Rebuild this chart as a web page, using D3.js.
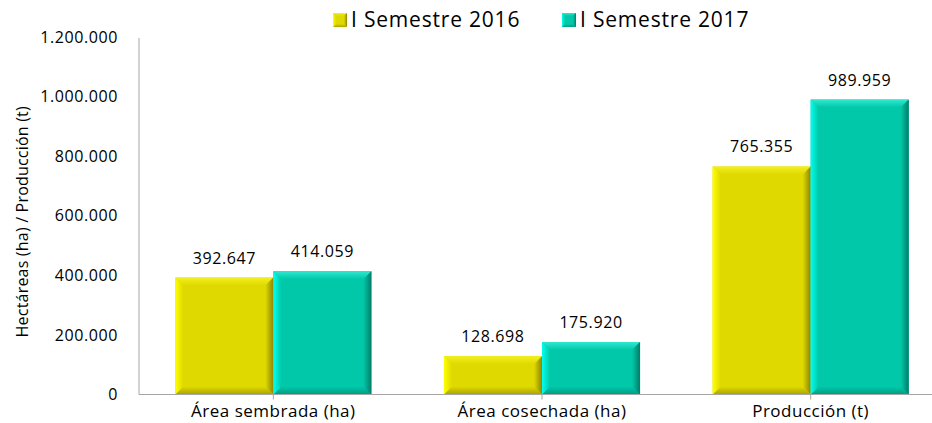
<!DOCTYPE html>
<html lang="es">
<head>
  <meta charset="utf-8" />
  <title>Área y producción</title>
  <script src="https://d3js.org/d3.v7.min.js"></script>
  <style>
    body { margin: 0; background: #fff; }
    text { font-family: "Open Sans", "Liberation Sans", sans-serif; fill: #000; }
  </style>
</head>
<body>
<div id="chart"></div>
<script>
// data
var categories = ["Área sembrada (ha)", "Área cosechada (ha)", "Producción (t)"];
var seriesNames = ["I Semestre 2016", "I Semestre 2017"];
var sem2016 = [392647, 128698, 765355];
var sem2017 = [414059, 175920, 989959];
var yTicks = [0, 200000, 400000, 600000, 800000, 1000000, 1200000];

var width = 932, height = 423;
var plotLeft = 139, plotRight = 945, plotTop = 37, plotBottom = 394.5;

var svg = d3.select("#chart").append("svg")
    .attr("width", width)
    .attr("height", height);

var fmt = function(v) { return d3.format(",")(v).replace(/,/g, "."); };

// bevel colours for each series
var looks = [
  { main: "#dfd900", light: "#ffff00", top: "#f4f020", dark: "#8c8600", bot: "#a9a300" },
  { main: "#00c8a8", light: "#00fff0", top: "#30e8d0", dark: "#007c68", bot: "#009c84" }
];

var defs = svg.append("defs");
looks.forEach(function(c, i) {
  var g = defs.append("linearGradient").attr("id", "L" + i).attr("x1", 0).attr("x2", 1).attr("y1", 0).attr("y2", 0);
  g.append("stop").attr("offset", 0).attr("stop-color", c.light);
  g.append("stop").attr("offset", 1).attr("stop-color", c.main);
  g = defs.append("linearGradient").attr("id", "R" + i).attr("x1", 0).attr("x2", 1).attr("y1", 0).attr("y2", 0);
  g.append("stop").attr("offset", 0).attr("stop-color", c.main);
  g.append("stop").attr("offset", 1).attr("stop-color", c.dark);
  g = defs.append("linearGradient").attr("id", "T" + i).attr("x1", 0).attr("x2", 0).attr("y1", 0).attr("y2", 1);
  g.append("stop").attr("offset", 0).attr("stop-color", c.top);
  g.append("stop").attr("offset", 1).attr("stop-color", c.main);
  g = defs.append("linearGradient").attr("id", "B" + i).attr("x1", 0).attr("x2", 0).attr("y1", 0).attr("y2", 1);
  g.append("stop").attr("offset", 0).attr("stop-color", c.main);
  g.append("stop").attr("offset", 1).attr("stop-color", c.bot);
});

var x = d3.scaleBand().domain(categories).range([plotLeft, plotRight]).paddingInner(0).paddingOuter(0);
var xs = d3.scaleBand().domain([0, 1]).range([0, x.bandwidth()]).paddingInner(0).paddingOuter(0.37);
var y = d3.scaleLinear().domain([0, 1200000]).range([plotBottom, plotTop]);

// bevelled bar
function bevel(g, x0, x1, y0, y1, i, d) {
  d = Math.min(d, (y1 - y0) / 2);
  g.append("rect").attr("x", x0).attr("y", y0).attr("width", x1 - x0).attr("height", y1 - y0)
    .attr("fill", looks[i].main);
  var poly = function(pts, fill) {
    g.append("polygon").attr("points", pts.map(function(p) { return p.join(","); }).join(" ")).attr("fill", fill);
  };
  poly([[x0, y0], [x1, y0], [x1 - d, y0 + d], [x0 + d, y0 + d]], "url(#T" + i + ")");
  poly([[x0, y1], [x1, y1], [x1 - d, y1 - d], [x0 + d, y1 - d]], "url(#B" + i + ")");
  poly([[x0, y0], [x0 + d, y0 + d], [x0 + d, y1 - d], [x0, y1]], "url(#L" + i + ")");
  poly([[x1, y0], [x1 - d, y0 + d], [x1 - d, y1 - d], [x1, y1]], "url(#R" + i + ")");
}

// y tick labels
svg.append("g").selectAll("text").data(yTicks).enter().append("text")
   .attr("x", 118)
   .attr("y", function(d) { return y(d); })
   .attr("dy", "0.35em")
   .attr("text-anchor", "end")
   .style("font-size", "16px")
   .style("letter-spacing", "0.6px")
   .text(fmt);

// y axis title
svg.append("text")
   .attr("transform", "translate(28," + ((plotTop + plotBottom) / 2 + 6) + ") rotate(-90)")
   .attr("text-anchor", "middle")
   .style("font-size", "16px")
   .style("letter-spacing", "0.2px")
   .text("Hectáreas (ha) / Producción (t)");

// bars
var series = [sem2016, sem2017];
var barG = svg.append("g");
series.forEach(function(vals, i) {
  categories.forEach(function(c, j) {
    var x0 = x(c) + xs(i), x1 = x0 + xs.bandwidth();
    bevel(barG, x0, x1, y(vals[j]), y(0), i, 8);
    barG.append("text")
      .attr("x", (x0 + x1) / 2)
      .attr("y", y(vals[j]) - 14)
      .attr("text-anchor", "middle")
      .style("font-size", "16px")
      .style("letter-spacing", "0.6px")
      .text(fmt(vals[j]));
  });
});

// axes lines
svg.append("line").attr("x1", plotLeft).attr("x2", plotLeft).attr("y1", plotTop + 1).attr("y2", plotBottom)
   .attr("stroke", "#a6a6a6").attr("stroke-width", 1);
svg.append("line").attr("x1", plotLeft).attr("x2", plotRight).attr("y1", plotBottom).attr("y2", plotBottom)
   .attr("stroke", "#a6a6a6").attr("stroke-width", 1);
svg.append("g").selectAll("line").data(categories).enter().append("line")
   .attr("x1", function(d) { return x(d) + x.bandwidth() / 2; })
   .attr("x2", function(d) { return x(d) + x.bandwidth() / 2; })
   .attr("y1", plotBottom).attr("y2", plotBottom + 5)
   .attr("stroke", "#a6a6a6");

// category labels
svg.append("g").selectAll("text").data(categories).enter().append("text")
   .attr("x", function(d) { return x(d) + x.bandwidth() / 2; })
   .attr("y", 417)
   .attr("text-anchor", "middle")
   .style("font-size", "17px")
   .style("letter-spacing", "0.5px")
   .text(function(d) { return d; });

// legend
var legX = [333, 562];
seriesNames.forEach(function(s, i) {
  var lg = svg.append("g");
  bevel(lg, legX[i], legX[i] + 14, 13, 27, i, 3);
  lg.append("text")
    .attr("x", legX[i] + 18)
    .attr("y", 20)
    .attr("dy", "0.35em")
    .style("font-size", "21px")
    .style("letter-spacing", "0.8px")
    .text(s);
});
</script>
</body>
</html>
